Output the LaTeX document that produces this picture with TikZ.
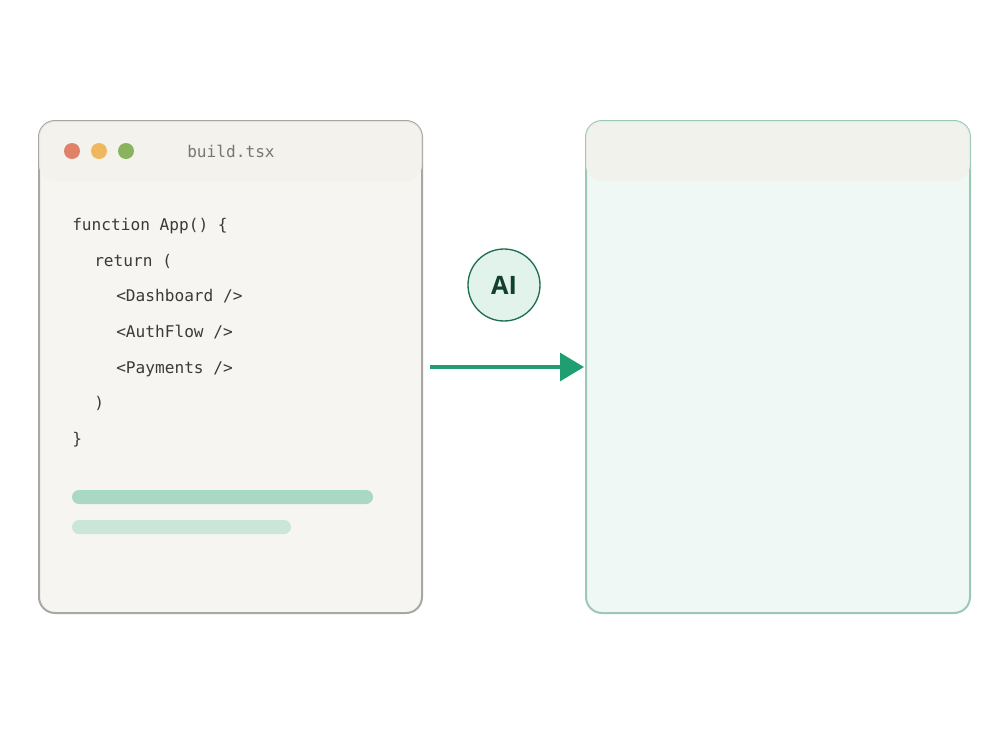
\documentclass[tikz,border=0pt]{standalone}
\usepackage{fontspec}
\setmainfont{Open Sans}
\newfontfamily\codefont{DejaVu Sans Mono}
\newfontfamily\aifont{Open Sans}[BoldFont={* Bold}]
\usetikzlibrary{arrows.meta}
\definecolor{winbg}{HTML}{F6F5F1}
\definecolor{hdrbg}{HTML}{F3F2EB}
\definecolor{winborder}{HTML}{A8A7A2}
\definecolor{outbg}{HTML}{EFF8F4}
\definecolor{outborder}{HTML}{9CC8B6}
\definecolor{codecol}{HTML}{3A3A3A}
\definecolor{titlecol}{HTML}{777672}
\definecolor{dotred}{HTML}{E0826A}
\definecolor{dotyel}{HTML}{F0B85E}
\definecolor{dotgrn}{HTML}{8AB35E}
\definecolor{barA}{HTML}{A9D8C6}
\definecolor{barB}{HTML}{CAE6DA}
\definecolor{aifill}{HTML}{E2F3EC}
\definecolor{aiborder}{HTML}{1E6E50}
\definecolor{aitext}{HTML}{12402F}
\definecolor{arrowcol}{HTML}{1F9E72}
\tikzset{
  codeline/.style={anchor=base west, inner sep=0pt, font=\codefont\fontsize{12.1pt}{14pt}\selectfont, text=codecol},
  dot/.style={circle, minimum size=12pt, inner sep=0pt},
  bar/.style={rounded corners=5.25pt},
}
\begin{document}
\begin{tikzpicture}[x=0.75pt,y=-0.75pt]
\useasboundingbox (0,0) rectangle (1000,750);
% left window
\fill[winbg,rounded corners=12pt] (39,121) rectangle (422,613);
\draw[winborder,line width=1.5pt,rounded corners=12pt] (39,121) rectangle (422,613);
\fill[hdrbg,opacity=0.8,rounded corners=12pt] (39,121) rectangle (422,181);
\node[dot,fill=dotred] (d1) at (72,151) {};
\node[dot,fill=dotyel] (d2) at (99,151) {};
\node[dot,fill=dotgrn] (d3) at (126,151) {};
\node[codeline,text=titlecol] (title) at (187,157) {build.tsx};
% code
\node[codeline] (l1) at (72,230) {function App() \{};
\node[codeline] (l2) at (94,266) {return (};
\node[codeline] (l3) at (116,301) {<Dashboard />};
\node[codeline] (l4) at (116,337) {<AuthFlow />};
\node[codeline] (l5) at (116,373) {<Payments />};
\node[codeline] (l6) at (94,408) {)};
\node[codeline] (l7) at (72,444) {\}};
% bars
\fill[barA,bar] (72,490) rectangle (373,504);
\fill[barB,bar] (72,520) rectangle (291,534);
% right window
\fill[outbg,rounded corners=12pt] (586,121) rectangle (970,613);
\draw[outborder,line width=1.5pt,rounded corners=12pt] (586,121) rectangle (970,613);
\fill[hdrbg,opacity=0.85,rounded corners=12pt] (586,121) rectangle (970,181);
\coordinate (outL) at (584,367);
\coordinate (inR) at (430,367);
% AI
\node[circle, minimum size=54pt, inner sep=0pt, fill=aifill, draw=aiborder, line width=1pt, text=aitext, font=\aifont\bfseries\fontsize{19pt}{22pt}\selectfont] (ai) at (504,285) {AI};
% arrow
\draw[arrowcol, line width=2.4pt, -{Triangle[length=18pt,width=21pt]}] (inR) -- (outL);
\end{tikzpicture}
\end{document}
